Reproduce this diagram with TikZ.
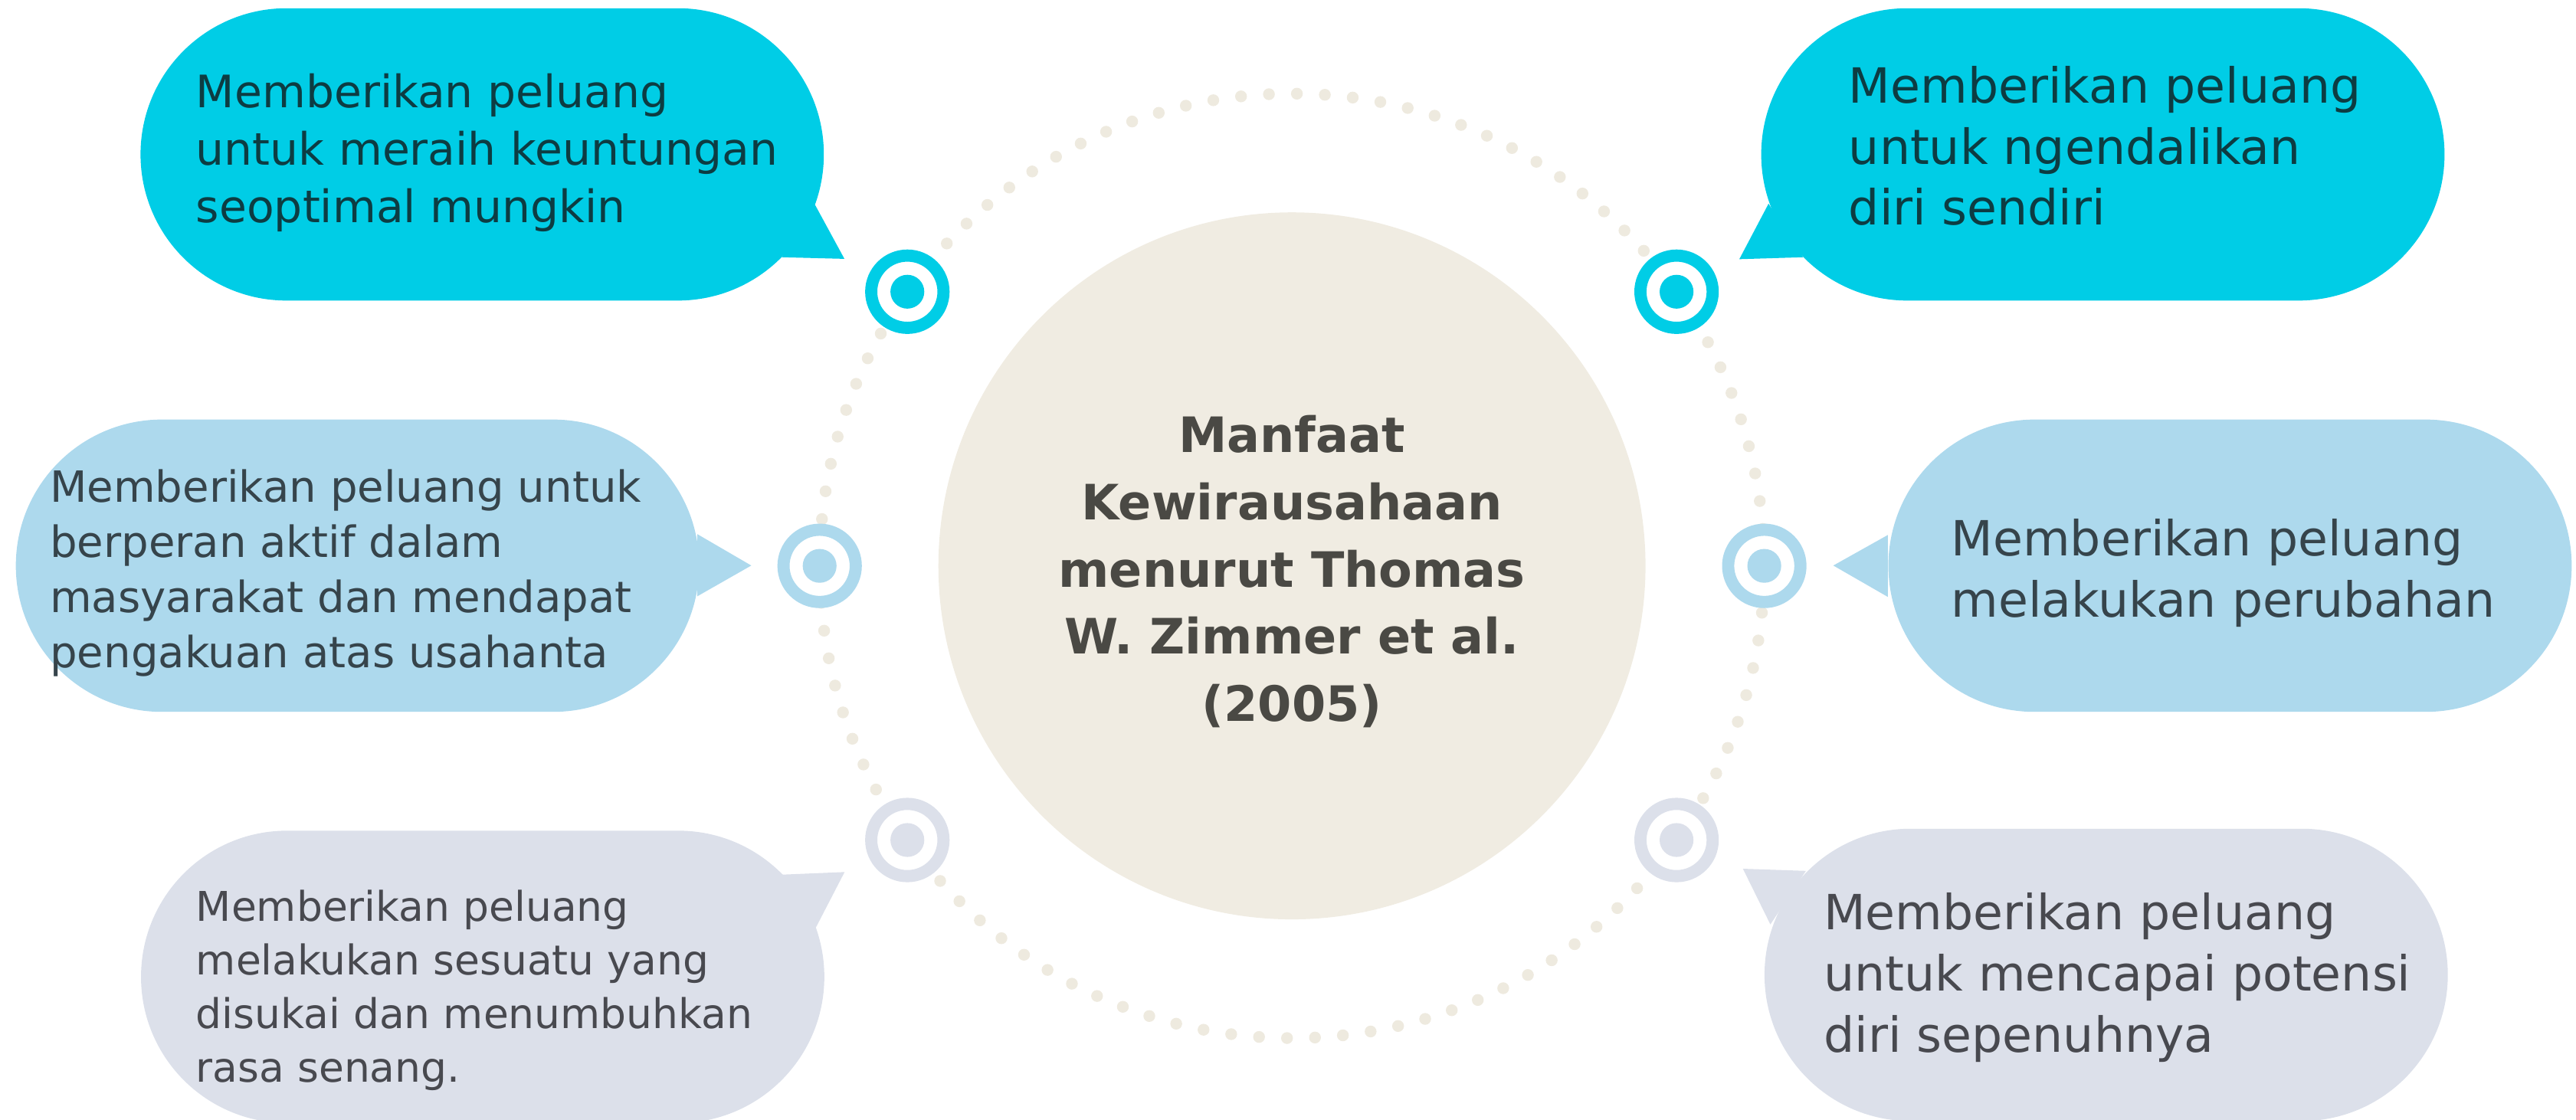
\documentclass[tikz,border=0pt]{standalone}
\usepackage{fontspec}
\setmainfont{DejaVu Sans}

\definecolor{topcol}{HTML}{00CDE6}
\definecolor{midcol}{HTML}{ADD9ED}
\definecolor{lowcol}{HTML}{DCE0EA}
\definecolor{hubcol}{HTML}{F0ECE2}
\definecolor{dotcol}{HTML}{EEEADF}
\definecolor{toptext}{HTML}{0D3C42}
\definecolor{midtext}{HTML}{36444B}
\definecolor{lowtext}{HTML}{48494F}
\definecolor{titletext}{HTML}{4A4944}

\newcommand{\setfs}[2]{\fontsize{#1}{#2}\selectfont}

\tikzset{
	bubble/.style={fill=#1, rounded corners=1.779cm, minimum width=8.32cm, minimum height=3.56cm, inner sep=0pt},
	target/.style={circle, draw=#1, fill=white, line width=0.148cm, minimum size=0.88cm, inner sep=0pt,
		path picture={\fill[#1] (path picture bounding box.center) circle (0.206cm);}},
	note/.style={anchor=base west, align=left, inner sep=0pt},
}

\begin{document}
\begin{tikzpicture}[x=0.02cm, y=-0.02cm]
	\useasboundingbox (0,0) rectangle (1568,681.4);

	% dotted ring
	\coordinate (ring) at (786.4,344.5);
	\foreach \i in {0,...,105}
		\fill[dotcol] ([shift={({-89.4+\i*3.39623}:287.5)}]ring) circle (3.6);

	\node[circle, fill=hubcol, minimum size=8.61cm, inner sep=0pt] (hub) at (ring) {};
	\node[anchor=base, align=center, inner sep=0pt, text=titletext, font=\bfseries\setfs{16.9}{23.3}] (title) at (786.4,439.2)
		{Manfaat\\Kewirausahaan\\menurut Thomas\\W. Zimmer et al.\\(2005)};

	% top row
	\node[bubble=topcol] (tlbox) at (293.5,94) {};
	\fill[topcol] (496,124.5) -- (514,157.6) -- (476,156.6) -- cycle;
	\node[note, text=toptext, font=\setfs{15.5}{19.9}] (tltext) at (119,135.3)
		{Memberikan peluang\\untuk meraih keuntungan\\seoptimal mungkin};

	\node[bubble=topcol] (trbox) at (1280,94) {};
	\fill[topcol] (1076.5,124) -- (1058.7,157.8) -- (1097.5,156.6) -- cycle;
	\node[note, text=toptext, font=\setfs{16.8}{21.2}] (trtext) at (1125,137.1)
		{Memberikan peluang\\untuk ngendalikan\\diri sendiri};

	% middle row
	\node[bubble=midcol] (mlbox) at (217.6,344.4) {};
	\fill[midcol] (424.5,325.2) -- (457.3,344.3) -- (424.5,363) -- cycle;
	\node[note, text=midtext, font=\setfs{14.9}{19.1}] (mltext) at (30.1,406.6)
		{Memberikan peluang untuk\\berperan aktif dalam\\masyarakat dan mendapat\\pengakuan atas usahanta};

	\node[bubble=midcol] (mrbox) at (1357.4,344.4) {};
	\fill[midcol] (1149.1,325.7) -- (1115.9,344.3) -- (1149.1,363.4) -- cycle;
	\node[note, text=midtext, font=\setfs{16.8}{21.1}] (mrtext) at (1187.4,375.5)
		{Memberikan peluang\\melakukan perubahan};

	% bottom row
	\node[bubble=lowcol] (blbox) at (293.8,594.7) {};
	\fill[lowcol] (475.8,532.5) -- (514.1,530.9) -- (496.4,565.1) -- cycle;
	\node[note, text=lowtext, font=\setfs{14.2}{18.6}] (bltext) at (119,659)
		{Memberikan peluang\\melakukan sesuatu yang\\disukai dan menumbuhkan\\rasa senang.};

	\node[bubble=lowcol] (brbox) at (1282,593.5) {};
	\fill[lowcol] (1099.2,530.2) -- (1060.9,528.9) -- (1077.6,562.8) -- cycle;
	\node[note, text=lowtext, font=\setfs{16.8}{21.2}] (brtext) at (1109.8,640.5)
		{Memberikan peluang\\untuk mencapai potensi\\diri sepenuhnya};

	% targets on the ring
	\node[target=topcol] (tlmark) at (552.3,177.6) {};
	\node[target=topcol] (trmark) at (1020.5,177.6) {};
	\node[target=midcol] (mlmark) at (498.9,344.5) {};
	\node[target=midcol] (mrmark) at (1073.9,344.5) {};
	\node[target=lowcol] (blmark) at (552.3,511.4) {};
	\node[target=lowcol] (brmark) at (1020.5,511.4) {};
\end{tikzpicture}
\end{document}
